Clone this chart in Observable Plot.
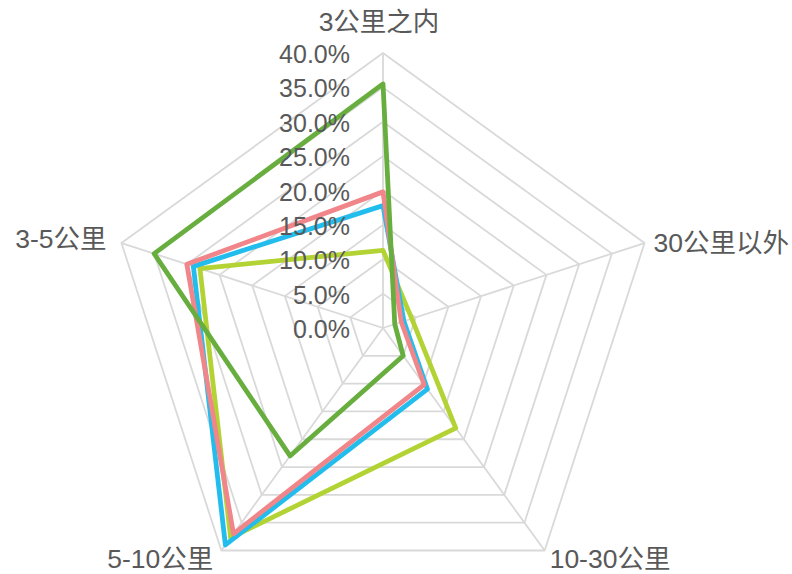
<!DOCTYPE html>
<html>
<head>
<meta charset="utf-8">
<script src="https://cdn.jsdelivr.net/npm/d3@7"></script>
<script src="https://cdn.jsdelivr.net/npm/@observablehq/plot@0.6"></script>
<style>
  html, body { margin: 0; padding: 0; background: #fff; }
  #chart svg { display: block; }
</style>
</head>
<body>
<div id="chart"></div>
<script>
const categories = ["3公里之内", "30公里以外", "10-30公里", "5-10公里", "3-5公里"];
const seriesNames = ["系列1", "系列2", "系列3", "系列4"];
const seriesColors = ["#B3D335", "#22BDEC", "#F08689", "#67AE3F"];
const valuesYellow = [11.3, 4.4, 18.0, 37.7, 28.0];
const valuesCyan   = [17.8, 3.2, 11.0, 39.0, 29.0];
const valuesPink   = [19.8, 2.8, 10.2, 37.0, 30.0];
const valuesGreen  = [35.5, 1.8, 5.0, 23.0, 35.0];
const tickValues = [0, 5, 10, 15, 20, 25, 30, 35, 40];
const tickLabels = ["0.0%", "5.0%", "10.0%", "15.0%", "20.0%", "25.0%", "30.0%", "35.0%", "40.0%"];

const allSeries = [valuesYellow, valuesCyan, valuesPink, valuesGreen];
const W = 792, H = 574;
const cx = 382.5, cy = 327.5, pxPerUnit = 275 / 40;
const n = categories.length;
const ang = i => (i * 2 * Math.PI) / n;
const px = (v, i) => v * Math.sin(ang(i));
const py = (v, i) => v * Math.cos(ang(i));

// grid rings
const gridPts = [];
tickValues.filter(t => t > 0).forEach(t => {
  categories.forEach((c, i) => gridPts.push({ring: t, x: px(t, i), y: py(t, i)}));
});
const spokes = categories.map((c, i) => ({x1: 0, y1: 0, x2: px(40, i), y2: py(40, i)}));

const seriesPts = [];
allSeries.forEach((vals, s) => {
  vals.forEach((v, i) => seriesPts.push({series: seriesNames[s], x: px(v, i), y: py(v, i)}));
});

const ticks = tickValues.map((t, k) => ({x: 0, y: t, label: tickLabels[k]}));

const labelOpts = [
  {anchor: "middle", dx: -4, dy: -30},
  {anchor: "start", dx: 9, dy: 0},
  {anchor: "start", dx: 5, dy: 9},
  {anchor: "end", dx: -8, dy: 9},
  {anchor: "end", dx: -15, dy: -4}
];
const catLabels = categories.map((c, i) => ({x: px(40, i), y: py(40, i), label: c, ...labelOpts[i]}));

const font = "'Liberation Sans', 'Noto Sans CJK SC', sans-serif";

const plot = Plot.plot({
  width: W,
  height: H,
  margin: 0,
  x: {domain: [-cx / pxPerUnit, (W - cx) / pxPerUnit], range: [0, W], axis: null},
  y: {domain: [-(H - cy) / pxPerUnit, cy / pxPerUnit], range: [H, 0], axis: null},
  color: {domain: seriesNames, range: seriesColors},
  style: {fontFamily: font, background: "#fff"},
  marks: [
    Plot.link(spokes, {x1: "x1", y1: "y1", x2: "x2", y2: "y2", stroke: "#D9D9D9", strokeWidth: 1.8}),
    Plot.line(gridPts, {x: "x", y: "y", z: "ring", curve: "linear-closed", stroke: "#D9D9D9", strokeWidth: 1.8}),
    Plot.line(seriesPts, {x: "x", y: "y", z: "series", stroke: "series", curve: "linear-closed", strokeWidth: 4.8, strokeLinejoin: "round"}),
    Plot.text(ticks, {x: "x", y: "y", text: "label", textAnchor: "end", dx: -33, dy: 2, fontSize: 25, fill: "#595959", fontFamily: font}),
    ...catLabels.map(d => Plot.text([d], {x: "x", y: "y", text: "label", textAnchor: d.anchor, dx: d.dx, dy: d.dy, fontSize: 26.5, fill: "#595959", fontFamily: font}))
  ]
});
document.getElementById("chart").appendChild(plot);
</script>
</body>
</html>
